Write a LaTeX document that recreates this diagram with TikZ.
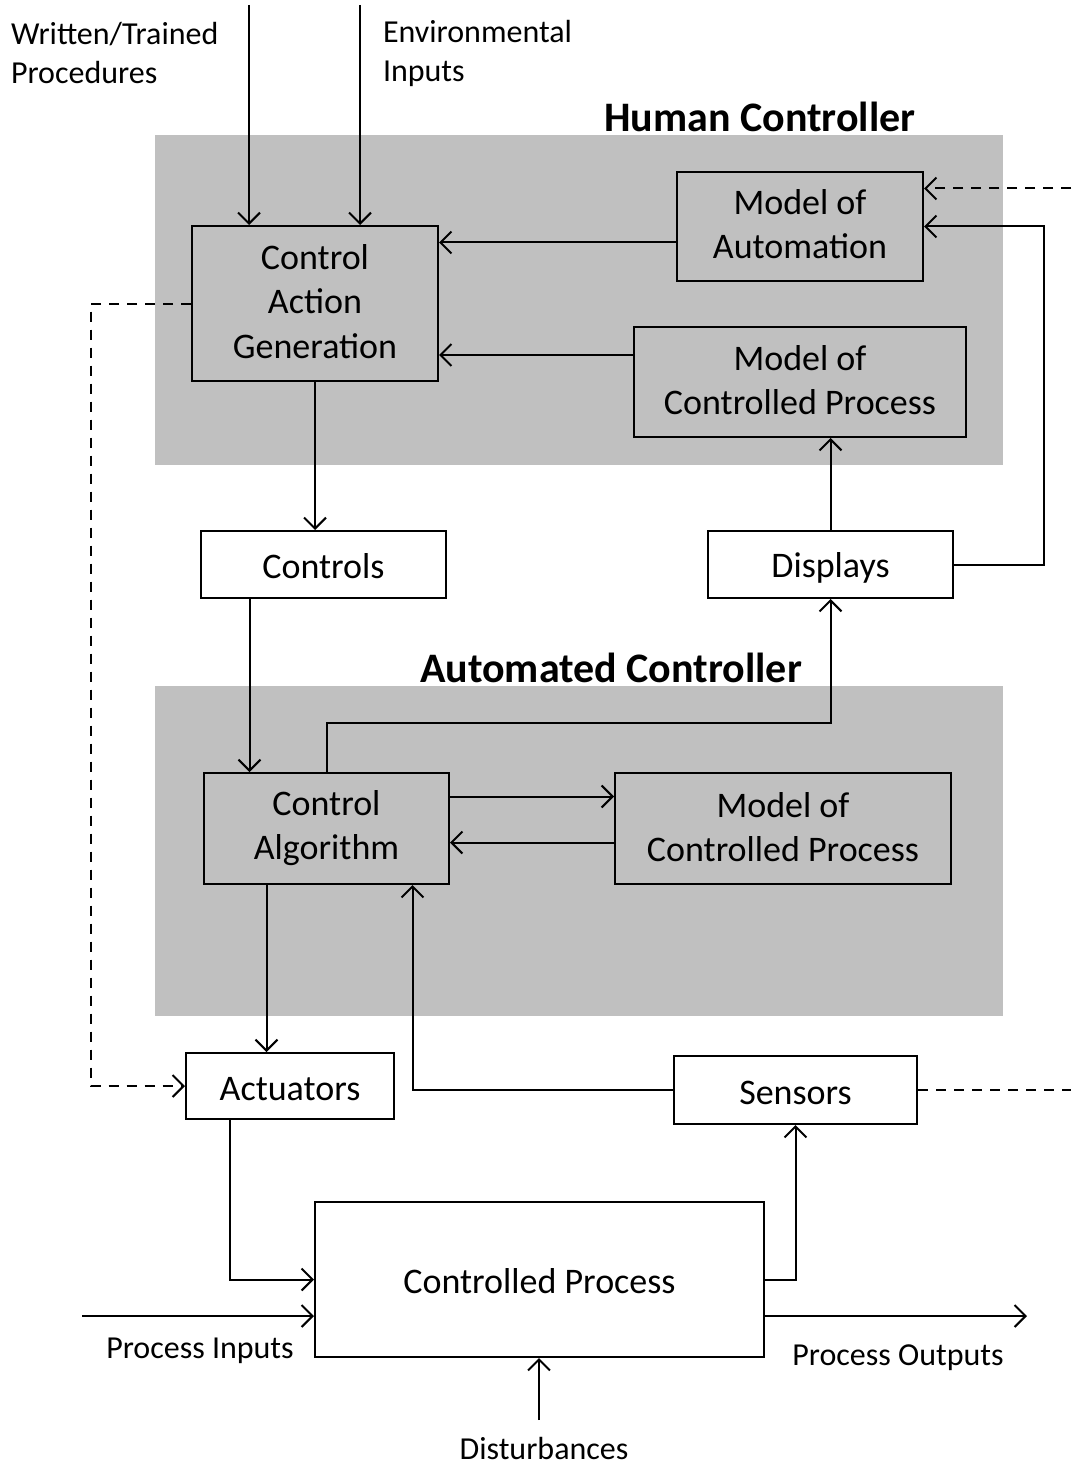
\documentclass[tikz,border=0pt]{standalone}
\usepackage{fontspec}
\setmainfont{Carlito}
\usetikzlibrary{arrows.meta}
\definecolor{regiongray}{RGB}{192,192,192}
\newcommand{\boxstrut}{\rule[-2pt]{0pt}{18pt}}
\tikzset{every picture/.style={line width=1pt, x=0.5pt, y=-0.5pt}}
\tikzset{block/.style={draw, inner sep=0pt, align=center, font=\fontsize{18}{22}\selectfont,
    execute at begin node=\boxstrut, execute at end node=\boxstrut}}
\tikzset{box size/.style 2 args={minimum width=#1*0.5pt, minimum height=#2*0.5pt}}
\tikzset{region/.style={fill=regiongray, inner sep=0pt}}
\tikzset{title text/.style={font=\fontsize{21}{25}\selectfont\bfseries}}
\tikzset{side text/.style={inner sep=0pt, align=left, font=\fontsize{16}{19.5}\selectfont}}
\tikzset{flow/.style={-{Straight Barb[length=5.5pt, width=11pt]}}}
\tikzset{feedback/.style={dash pattern=on 5pt off 4pt}}

\begin{document}
\begin{tikzpicture}
  \useasboundingbox (0,0) rectangle (1071,1466);

  % shaded controller areas
  \node[region, box size={848}{330}] (human) at (579,300) {};
  \node[region, box size={848}{330}] (automated) at (579,851) {};
  \node[title text] at (760,117) {Human Controller};
  \node[title text] at (611,668) {Automated Controller};

  % human controller
  \node[block, box size={246}{155}] (cag) at (315,303.5) {Control\\Action\\Generation};
  \node[block, box size={246}{109}] (moa) at (800,226.5) {Model of\\Automation};
  \node[block, box size={332}{110}] (hmcp) at (800,382) {Model of\\Controlled Process};
  \node[block, box size={245}{67}] (controls) at (323.5,564.5) {Controls};
  \node[block, box size={245}{67}] (displays) at (830.5,564.5) {Displays};

  % automated controller
  \node[block, box size={245}{111}] (calg) at (326.5,828.5) {Control\\Algorithm};
  \node[block, box size={336}{111}] (amcp) at (783,828.5) {Model of\\Controlled Process};

  % plant
  \node[block, box size={208}{66}] (actuators) at (290,1086) {Actuators};
  \node[block, box size={243}{68}] (sensors) at (795.5,1090) {Sensors};
  \node[block, box size={449}{155}] (process) at (539.5,1279.5) {Controlled Process};

  % outside texts
  \node[side text, anchor=west] (procs) at (10,53) {Written/Trained\\Procedures};
  \node[side text, anchor=west] (envs) at (382,53) {Environmental\\Inputs};
  \node[side text] (pin) at (200,1351) {Process Inputs};
  \node[side text] (pout) at (898,1358) {Process Outputs};
  \node[side text] (dist) at (544,1448) {Disturbances};

  % free ends and offsets
  \coordinate (proctop) at (249,5);
  \coordinate (envtop) at (360,5);
  \coordinate (moaout) at ([yshift=-8pt]moa.west);
  \coordinate (hmcpout) at ([yshift=13.5pt]hmcp.west);
  \coordinate (moadash) at ([yshift=19pt]moa.east);
  \coordinate (rightfree) at (1071,0);
  \coordinate (ctrlout) at ([xshift=-37pt]controls.south);
  \coordinate (calgright) at ([yshift=16pt]calg.east);
  \coordinate (amcpout) at ([yshift=-7pt]amcp.west);
  \coordinate (calgout) at ([xshift=-30pt]calg.south);
  \coordinate (calgin) at ([xshift=43pt]calg.south);
  \coordinate (actout) at ([xshift=-30pt]actuators.south);
  \coordinate (inflow) at (82,1316);
  \coordinate (outflow) at (1027,1316);
  \coordinate (distbase) at (539,1420);

  % human controller links
  \draw[flow] (proctop) -- (proctop |- cag.north);
  \draw[flow] (envtop) -- (envtop |- cag.north);
  \draw[flow] (moaout) -- (moaout -| cag.east);
  \draw[flow] (hmcpout) -- (hmcpout -| cag.east);
  \draw[flow, feedback] (rightfree |- moadash) -- (moadash);
  \draw[flow] (displays.east) -- ++(90,0) |- (moa.east);
  \draw[flow] (displays.north) -- (displays.north |- hmcp.south);
  \draw[flow] (cag.south) -- (cag.south |- controls.north);
  \draw[flow, feedback] (cag.west) -- ++(-100,0) |- (actuators.west);

  % automated controller links
  \draw[flow] (ctrlout) -- (ctrlout |- calg.north);
  \draw[flow] (calg.north) -- ++(0,-49) -| (displays.south);
  \draw[flow] (calgright) -- (calgright -| amcp.west);
  \draw[flow] (amcpout) -- (amcpout -| calg.east);
  \draw[flow] (calgout) -- (calgout |- actuators.north);
  \draw[flow] (sensors.west) -| (calgin);
  \draw[feedback] (sensors.east) -- (rightfree |- sensors.east);

  % plant links
  \draw[flow] (actout) |- (process.west);
  \draw[flow] (inflow) -- (inflow -| process.west);
  \draw[flow] (process.east) -| (sensors.south);
  \draw[flow] (inflow -| process.east) -- (outflow);
  \draw[flow] (distbase) -- (distbase |- process.south);
\end{tikzpicture}
\end{document}
